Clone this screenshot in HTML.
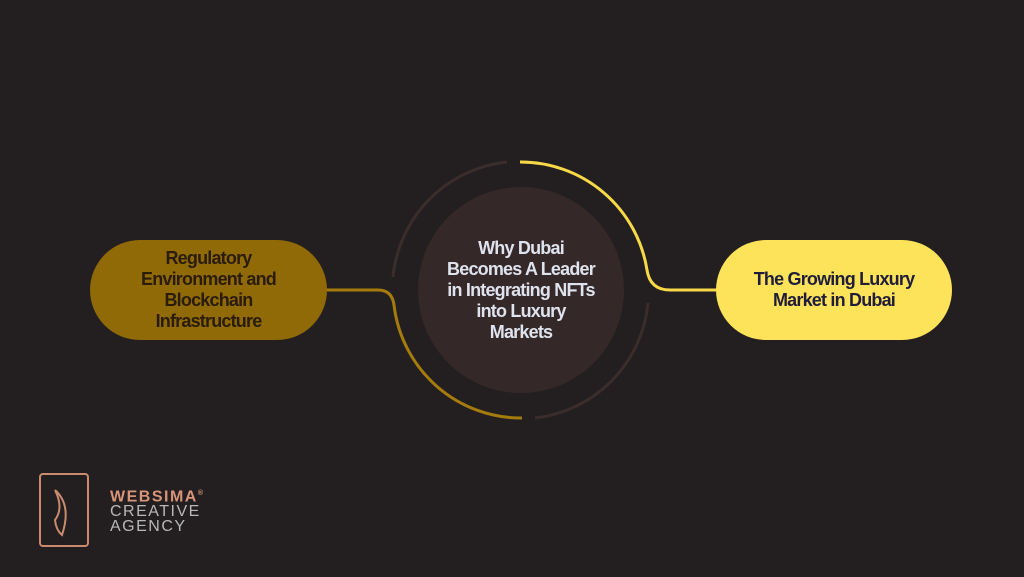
<!DOCTYPE html>
<html><head><meta charset="utf-8"><style>
body{margin:0;width:1024px;height:577px;background:#231f20;overflow:hidden;position:relative;font-family:"Liberation Sans",sans-serif}
.t{position:absolute;text-align:center;font-weight:bold;font-size:18px;line-height:21px;letter-spacing:-0.8px;display:flex;align-items:center;justify-content:center}
</style></head><body>
<svg width="1024" height="577" style="position:absolute;left:0;top:0">
<circle cx="521" cy="290" r="103" fill="#352828"/>
<path d="M393 277 A128 128 0 0 1 507 162" fill="none" stroke="#3a2d2b" stroke-width="3"/>
<path d="M648 303 A128 128 0 0 1 535 418" fill="none" stroke="#3a2d2b" stroke-width="3"/>
<path d="M520 162 A128 128 0 0 1 647 270 Q650 290 670 290 L720 290" fill="none" stroke="#f7d947" stroke-width="3"/>
<path d="M322 290 L378 290 Q392 290 394 305 A128 128 0 0 0 522 418" fill="none" stroke="#a47b0c" stroke-width="3"/>
<rect x="90" y="240" width="237" height="100" rx="50" fill="#8f6a06"/>
<rect x="716" y="240" width="236" height="100" rx="50" fill="#fde35a"/>
<rect x="40" y="474" width="48" height="72" rx="3" fill="none" stroke="#c98a6e" stroke-width="2"/>
<path d="M55 490 Q72 505 62 535 Q56 530 55 520 Q64 508 55 490" fill="none" stroke="#c98a6e" stroke-width="2"/>
</svg>
<div class="t" style="left:90px;top:240px;width:237px;height:100px;color:#2a1c08">Regulatory<br>Environment and<br>Blockchain<br>Infrastructure</div>
<div class="t" style="left:716px;top:240px;width:236px;height:100px;color:#1f1d3a">The Growing Luxury<br>Market in Dubai</div>
<div class="t" style="left:420px;top:190px;width:202px;height:200px;color:#dfe3ee">Why Dubai<br>Becomes A Leader<br>in Integrating NFTs<br>into Luxury<br>Markets</div>
<div style="position:absolute;left:110px;top:486px;font-size:16px;line-height:15px;letter-spacing:1.5px">
<div style="color:#d8957a;font-weight:bold">WEBSIMA<sup style="font-size:7px">®</sup></div>
<div style="color:#b8b8b8">CREATIVE</div><div style="color:#b8b8b8">AGENCY</div></div>
</body></html>
